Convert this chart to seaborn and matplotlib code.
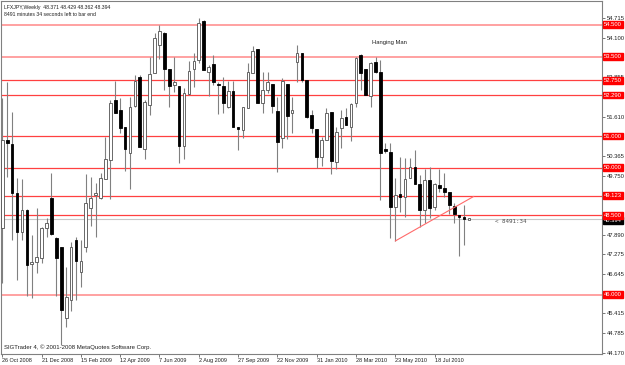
import numpy as np
import pandas as pd
import matplotlib
matplotlib.use("Agg")
import matplotlib.pyplot as plt
import matplotlib.transforms as mtransforms
import seaborn as sns

# ---------------- data ----------------
symbol = "LFXJPY,Weekly"
first_week = "2008-10-26"
missing_weeks = ["2009-12-27", "2010-01-03"]   # holiday weeks without a bar
countdown = "8491 minutes 34 seconds left to bar end"
countdown_short = "< 8491:34"
copyright_txt = "SIGTrader 4, \u00a9 2001-2008 MetaQuotes Software Corp."
pattern_txt = "Hanging Man"
pattern_pos = [78.8, 53.93]

opens = [48.094, 50.874, 50.748, 49.195, 47.989, 48.671, 46.961, 47.024, 47.150, 48.094,
         49.038, 47.779, 47.496, 45.261, 45.838, 47.726, 46.730, 47.496, 48.723, 49.143,
         49.038, 49.636, 50.245, 52.133, 51.818, 51.273, 50.475, 51.955, 52.868, 50.580,
         51.976, 52.972,
         53.864, 54.253, 53.098, 52.595, 52.574, 50.685, 52.322, 53.098, 53.392, 54.620,
         53.014, 53.266, 52.637, 52.574, 51.923, 52.416, 51.273, 51.189, 51.892, 52.993,
         53.728, 52.028, 52.448, 52.637, 51.787, 50.927, 52.637, 51.735, 53.319, 53.602,
         52.763, 51.661,
         51.210, 50.329, 50.874, 51.766, 50.192, 51.241, 51.609, 51.294, 52.049, 53.550,
         53.098, 52.259, 53.340, 53.025, 50.580, 50.507, 48.776, 49.174, 49.069, 49.668,
         50.014, 49.489, 48.671, 49.615, 48.755, 49.458, 49.353, 49.248, 48.797, 48.524,
         48.461, 48.371]
closes = [50.874, 50.769, 49.216, 47.989, 48.671, 46.940, 47.024, 47.202, 48.094, 48.251,
          47.905, 47.150, 45.523, 45.943, 47.517, 47.076, 47.076, 48.902, 49.038, 49.195,
          49.689, 50.266, 52.049, 51.714, 51.241, 50.580, 51.923, 52.742, 50.643, 52.081,
          52.941, 54.074,
          54.315, 53.098, 52.573, 52.689, 50.685, 52.343, 53.056, 53.371, 54.567, 53.077,
          53.161, 52.710, 52.595, 52.028, 52.416, 51.294, 51.231, 51.923, 53.025, 53.686,
          52.049, 52.448, 52.710, 51.944, 50.822, 52.742, 51.630, 51.818, 53.602, 52.763,
          51.588, 51.241,
          50.329, 50.874, 51.714, 50.224, 51.136, 51.556, 51.346, 52.007, 53.445, 52.993,
          52.291, 53.308, 53.025, 50.475, 50.517, 48.776, 49.143, 49.069, 49.636, 50.014,
          49.489, 48.671, 49.615, 48.723, 49.489, 49.353, 49.248, 48.828, 48.545, 48.461,
          48.377, 48.394]
highs = [52.186, 52.710, 51.766, 49.667, 49.636, 48.690, 47.884, 48.723, 48.146, 48.409,
         49.846, 47.810, 47.496, 46.887, 47.674, 47.831, 47.726, 49.804, 49.720, 49.510,
         49.825, 50.979, 52.133, 52.731, 52.186, 51.273, 52.238, 52.920, 52.920, 52.133,
         53.497, 54.232,
         54.494, 54.284, 53.098, 53.497, 52.574, 52.500, 53.371, 53.623, 54.704, 54.651,
         53.235, 53.550, 52.710, 52.868, 52.742, 52.742, 51.273, 51.923, 53.308, 53.833,
         53.728, 53.025, 53.025, 52.637, 52.238, 52.815, 52.637, 52.217, 53.864, 53.623,
         52.763, 51.818,
         51.210, 50.979, 51.871, 51.766, 51.273, 51.818, 51.871, 52.028, 53.497, 53.581,
         53.098, 53.340, 53.497, 53.392, 50.769, 50.769, 49.667, 50.350, 50.297, 50.297,
         50.559, 49.773, 49.951, 50.035, 49.510, 49.951, 49.825, 49.248, 48.902, 48.524,
         48.828, 48.429]
lows = [46.363, 49.700, 47.726, 46.468, 47.726, 45.964, 45.890, 46.677, 46.992, 47.831,
        47.884, 45.964, 44.420, 44.999, 45.500, 45.838, 46.258, 47.359, 48.167, 47.831,
        49.007, 49.636, 49.007, 51.714, 51.084, 49.899, 49.321, 51.923, 50.643, 50.266,
        51.661, 52.972,
        53.413, 52.448, 51.923, 52.396, 50.140, 50.266, 52.291, 52.553, 53.308, 53.077,
        52.259, 52.605, 51.693, 51.714, 51.871, 51.294, 50.559, 50.927, 51.892, 52.993,
        52.049, 51.714, 52.364, 51.735, 49.877, 50.612, 50.895, 51.084, 52.710, 52.710,
        51.556, 51.084,
        49.982, 50.056, 50.874, 49.804, 49.951, 50.612, 51.346, 50.853, 51.923, 52.448,
        52.291, 51.902, 52.993, 48.986, 50.475, 47.800, 47.695, 48.619, 48.440, 49.668,
        49.489, 48.146, 48.272, 48.409, 48.671, 49.248, 49.090, 48.545, 48.251, 47.223,
        47.569, 48.362]

levels = [54.500, 53.500, 52.750, 52.290, 51.000, 50.000, 49.123, 48.500, 46.000]
level_light = [True, True, False, False, False, False, False, False, True]
trend_x = [80, 96]
trend_y = [47.695, 49.100]
y_ticks = [44.170, 44.785, 45.415, 46.030, 46.645, 47.275, 47.890, 48.505, 49.135,
           49.750, 50.365, 50.995, 51.610, 52.240, 52.855, 53.485, 54.100, 54.715]
y_ticks_hidden = [46.030, 48.505, 49.135, 50.995, 53.485]   # covered by level boxes
tick_every = 8

# ---------------- figure ----------------
sns.set_theme(style="white")
plt.rcParams['font.family'] = ['Liberation Sans', 'DejaVu Sans']

W, H = 625, 365
fig = plt.figure(figsize=(W / 100, H / 100), dpi=100)
fig.patch.set_facecolor("white")
L, R, T, B = 1, 602, 1, 354
ax = fig.add_axes([L / W, 1 - B / H, (R - L) / W, (B - T) / H])
ax.set_facecolor("white")

df = pd.DataFrame(dict(open=opens, high=highs, low=lows, close=closes))
weeks = pd.date_range(first_week, periods=len(df) + len(missing_weeks), freq="7D")
weeks = weeks[~weeks.isin(pd.to_datetime(missing_weeks))]
df["date"] = weeks
df["i"] = np.arange(len(df))
up = df["close"] >= df["open"]
bot = df[["open", "close"]].min(axis=1)
hgt = (df["close"] - df["open"]).abs().clip(lower=0.05)

# levels
for lv, light in zip(levels, level_light):
    ax.axhline(lv, color="#ff9a9a" if light else "#ff4040", lw=1.3 if light else 0.9, zorder=1)
ax.axhline(closes[-1], color="#c8c8c8", lw=0.8, zorder=1)

# candles
ax.vlines(df["i"], df["low"], df["high"], color="#808080", lw=0.8, zorder=3)
ax.bar(df["i"][up], hgt[up], bottom=bot[up], width=0.55, color="white",
       edgecolor="#505050", linewidth=0.6, zorder=4)
ax.bar(df["i"][~up], hgt[~up], bottom=bot[~up], width=0.55, color="black",
       edgecolor="black", linewidth=0.6, zorder=4)

# trend line
sns.lineplot(x=trend_x, y=trend_y, ax=ax, color="#ff6a6a", lw=0.8, zorder=5)

ax.set_xlim(-0.265, 122.1)
ax.set_ylim(44.139, 55.249)

# axes styling
for s in ax.spines.values():
    s.set_color("#808080")
    s.set_linewidth(0.8)
ax.yaxis.tick_right()
ax.set_yticks(y_ticks)
ax.set_yticklabels(["" if v in y_ticks_hidden else f"{v:.3f}" for v in y_ticks])
ax.tick_params(axis="y", which="both", right=True, left=False, length=2, width=0.6,
               color="#606060", pad=1.5, labelsize=4.2, labelcolor="#202020")
xt = df["i"][::tick_every]
ax.set_xticks(xt)
ax.set_xticklabels([d.strftime("%-d %b %Y") for d in df["date"][::tick_every]])
for lab in ax.get_xticklabels():
    lab.set_horizontalalignment("left")
ax.tick_params(axis="x", bottom=True, length=2, width=0.6, color="#606060", pad=1.0,
               labelsize=4.0, labelcolor="#202020")
ax.grid(False)
ax.set_xlabel("")
ax.set_ylabel("")
if ax.get_legend():
    ax.get_legend().remove()

trans = mtransforms.blended_transform_factory(ax.transAxes, ax.transData)
# bid label (black) then red level labels
ax.text(1.003, closes[-1] - 0.06, f"{closes[-1]:.3f}", transform=trans, ha="left", va="center",
        color="white", fontsize=4.2, clip_on=False, zorder=6,
        bbox=dict(boxstyle="square,pad=0.15", fc="black", ec="black"))
for lv in levels:
    ax.text(1.003, lv, f"{lv:.3f}", transform=trans, ha="left", va="center",
            color="white", fontsize=4.2, clip_on=False, zorder=7,
            bbox=dict(boxstyle="square,pad=0.15", fc="#ff0000", ec="#ff0000"))

# annotations
ax.text(pattern_pos[0], pattern_pos[1], pattern_txt, ha="center", va="center",
        fontsize=4.2, color="#202020")
ax.text(100.3, closes[-1] - 0.07, countdown_short, ha="left", va="center",
        fontsize=4.2, color="#505050", family=["DejaVu Sans Mono"])

header = f"{symbol}  {opens[-1]:.3f} {highs[-1]:.3f} {lows[-1]:.3f} {closes[-1]:.3f}"
fig.text(4 / W, 1 - 7 / H, header, ha="left", va="center", fontsize=3.7, color="#202020")
fig.text(4 / W, 1 - 14 / H, countdown, ha="left", va="center", fontsize=3.7, color="#202020")
fig.text(4 / W, 1 - 347 / H, copyright_txt, ha="left", va="center", fontsize=4.3, color="#202020")

fig.savefig("out.png", dpi=100, facecolor="white")
